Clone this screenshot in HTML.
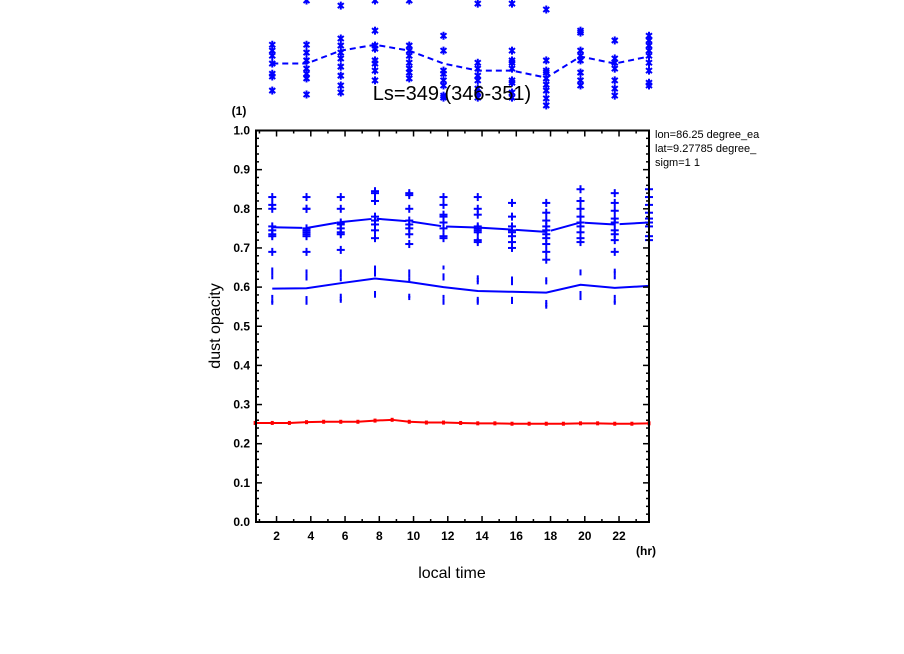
<!DOCTYPE html>
<html><head><meta charset="utf-8"><style>
html,body{margin:0;padding:0;background:#fff;}
svg{display:block;font-family:"Liberation Sans",sans-serif;}
</style></head><body>
<svg id="chart" width="904" height="654" viewBox="0 0 904 654" xmlns="http://www.w3.org/2000/svg">
<g id="marks"></g>
<rect x="256" y="130.5" width="393" height="391.5" fill="none" stroke="#000" stroke-width="2"/>
<g id="axes"></g>
<text x="452" y="100" font-size="20" text-anchor="middle">Ls=349 (346-351)</text>
<text x="239" y="115" font-size="12" text-anchor="middle" font-weight="bold">(1)</text>
<text x="646" y="555" font-size="12" text-anchor="middle" font-weight="bold">(hr)</text>
<text transform="translate(220,326) rotate(-90)" font-size="16" text-anchor="middle">dust opacity</text>
<text x="452" y="578" font-size="16" text-anchor="middle">local time</text>
<text x="655" y="138" font-size="11">lon=86.25 degree_ea</text>
<text x="655" y="152" font-size="11">lat=9.27785 degree_</text>
<text x="655" y="166" font-size="11">sigm=1 1</text>
</svg>
<script>
const hoursRed = [0.75,1.75,2.75,3.75,4.75,5.75,6.75,7.75,8.75,9.75,10.75,11.75,12.75,13.75,14.75,15.75,16.75,17.75,18.75,19.75,20.75,21.75,22.75,23.75];
const redValues = [0.253,0.253,0.253,0.255,0.256,0.256,0.256,0.259,0.261,0.256,0.254,0.254,0.253,0.252,0.252,0.251,0.251,0.251,0.251,0.252,0.252,0.251,0.251,0.252];
const hoursBlue = [1.75,3.75,5.75,7.75,9.75,11.75,13.75,15.75,17.75,19.75,21.75,23.75];
const dotMean = [0.596,0.597,0.61,0.622,0.613,0.60,0.59,0.588,0.586,0.606,0.598,0.603];
const plusMean = [0.753,0.751,0.766,0.775,0.768,0.755,0.752,0.747,0.741,0.765,0.760,0.765];
const starMean = [1.171,1.171,1.204,1.219,1.204,1.171,1.153,1.153,1.135,1.189,1.171,1.189];
const dotPoints = [
 [0.645,0.635,0.625,0.575,0.565,0.56],[0.64,0.63,0.622,0.572,0.565,0.56],[0.64,0.63,0.62,0.578,0.57,0.565],
 [0.65,0.64,0.632,0.585,0.578],[0.64,0.63,0.62,0.578,0.572],[0.65,0.63,0.622,0.575,0.565,0.56],
 [0.625,0.618,0.612,0.57,0.565,0.56],[0.622,0.615,0.61,0.57,0.562],[0.62,0.612,0.562,0.555,0.55],
 [0.64,0.635,0.585,0.578,0.572],[0.642,0.635,0.625,0.575,0.565,0.56],[0.65,0.64,0.63,0.58,0.575,0.57]];
const plusPoints = [
 [0.83,0.81,0.80,0.755,0.745,0.735,0.73,0.69],[0.83,0.80,0.80,0.75,0.745,0.74,0.735,0.73,0.69],
 [0.83,0.80,0.765,0.76,0.75,0.74,0.735,0.695],[0.845,0.84,0.82,0.78,0.77,0.76,0.745,0.725],
 [0.84,0.835,0.80,0.77,0.76,0.75,0.735,0.71],[0.83,0.81,0.785,0.78,0.765,0.75,0.73,0.725],
 [0.83,0.80,0.785,0.755,0.75,0.745,0.74,0.72,0.715],[0.815,0.78,0.755,0.745,0.74,0.73,0.715,0.70],
 [0.815,0.79,0.77,0.755,0.745,0.735,0.725,0.71,0.69,0.67],[0.85,0.82,0.80,0.78,0.765,0.755,0.74,0.725,0.715],
 [0.84,0.815,0.795,0.775,0.765,0.745,0.735,0.72,0.69],[0.85,0.83,0.81,0.79,0.775,0.765,0.755,0.73,0.72]];
const starPoints = [
 [1.219,1.204,1.191,1.171,1.145,1.138,1.102],[1.219,1.199,1.179,1.158,1.145,1.133,1.092,1.332],
 [1.319,1.235,1.217,1.199,1.184,1.163,1.140,1.115,1.097],[1.332,1.255,1.217,1.209,1.179,1.171,1.153,1.128],
 [1.332,1.217,1.204,1.191,1.173,1.158,1.148,1.133],[1.242,1.204,1.153,1.145,1.128,1.115,1.089,1.084],
 [1.324,1.173,1.158,1.140,1.128,1.107,1.097,1.084],[1.324,1.204,1.179,1.173,1.158,1.128,1.122,1.097,1.084],
 [1.309,1.179,1.153,1.148,1.133,1.117,1.102,1.082,1.064],[1.255,1.250,1.204,1.191,1.179,1.148,1.128,1.115],
 [1.230,1.184,1.173,1.158,1.128,1.107,1.089],[1.242,1.230,1.217,1.204,1.191,1.173,1.153,1.122,1.115]];
const yTicks = [0.0,0.1,0.2,0.3,0.4,0.5,0.6,0.7,0.8,0.9,1.0];
const xTicks = [2,4,6,8,10,12,14,16,18,20,22];

const X0=256, X1=649, Y0=522, Y1=130.5, XMIN=0.8, XMAX=23.75;
const xs = h => X0 + (h-XMIN)/(XMAX-XMIN)*(X1-X0);
const ys = v => Y0 - v*(Y0-Y1);
const NS="http://www.w3.org/2000/svg";
const marks=document.getElementById('marks'), axes=document.getElementById('axes');
function mk(tag, attrs, parent){const e=document.createElementNS(NS,tag);for(const k in attrs)e.setAttribute(k,attrs[k]);parent.appendChild(e);return e;}
function poly(xv,yv,color,dash,name){
  const p=mk('polyline',{points:xv.map((h,i)=>xs(h)+','+ys(yv[i])).join(' '),fill:'none',stroke:color,'stroke-width':2,'stroke-dasharray':dash},marks);
  
  
}
// star series
poly(hoursBlue,starMean,'#0000ff','6,4','star-mean-line');
starPoints.forEach((col,i)=>col.forEach(v=>{
  const g=mk('g',{stroke:'#0000ff','stroke-width':2},marks);
  
  
  const x=xs(hoursBlue[i]), y=ys(v);
  mk('line',{x1:x,y1:y-4,x2:x,y2:y+4},g);
  mk('line',{x1:x-3,y1:y-2.5,x2:x+3,y2:y+2.5},g);
  mk('line',{x1:x-3,y1:y+2.5,x2:x+3,y2:y-2.5},g);
}));
// plus series
poly(hoursBlue,plusMean,'#0000ff','30,5','plus-mean-line');
plusPoints.forEach((col,i)=>col.forEach(v=>{
  const g=mk('g',{stroke:'#0000ff','stroke-width':2},marks);
  
  
  const x=xs(hoursBlue[i]), y=ys(v);
  mk('line',{x1:x,y1:y-4,x2:x,y2:y+4},g);
  mk('line',{x1:x-4,y1:y,x2:x+4,y2:y},g);
}));
// dot series
poly(hoursBlue,dotMean,'#0000ff','none','dot-mean-line');
dotPoints.forEach((col,i)=>col.forEach(v=>{
  const r=mk('rect',{x:xs(hoursBlue[i])-1,y:ys(v)-2,width:2,height:4,fill:'#0000ff'},marks);
  
  
}));
// red series
poly(hoursRed,redValues,'#ff0000','none','red-line');
redValues.forEach((v,i)=>{
  const r=mk('rect',{x:xs(hoursRed[i])-1.5,y:ys(v)-2,width:3,height:4,fill:'#ff0000'},marks);
  
  
});
// y ticks
for(let k=0;k<=50;k++){
  const v=k*0.02, y=ys(v), L=(k%5===0)?6:3;
  mk('line',{x1:X0,y1:y,x2:X0+L,y2:y,stroke:'#000','stroke-width':1.5},axes);
  mk('line',{x1:X1,y1:y,x2:X1-L,y2:y,stroke:'#000','stroke-width':1.5},axes);
}
yTicks.forEach(v=>{
  const t=mk('text',{x:X0-6,y:ys(v)+4,'font-size':12,'font-weight':'bold','text-anchor':'end'},axes);
  
  
  t.textContent=v.toFixed(1);
});
for(let h=1;h<=23;h++){
  const x=xs(h), L=(h%2===0)?6:3;
  mk('line',{x1:x,y1:Y0,x2:x,y2:Y0-L,stroke:'#000','stroke-width':1.5},axes);
  mk('line',{x1:x,y1:Y1,x2:x,y2:Y1+L,stroke:'#000','stroke-width':1.5},axes);
}
xTicks.forEach(h=>{
  const t=mk('text',{x:xs(h),y:Y0+18,'font-size':12,'font-weight':'bold','text-anchor':'middle'},axes);
  
  
  t.textContent=h;
});
</script>
</body></html>
